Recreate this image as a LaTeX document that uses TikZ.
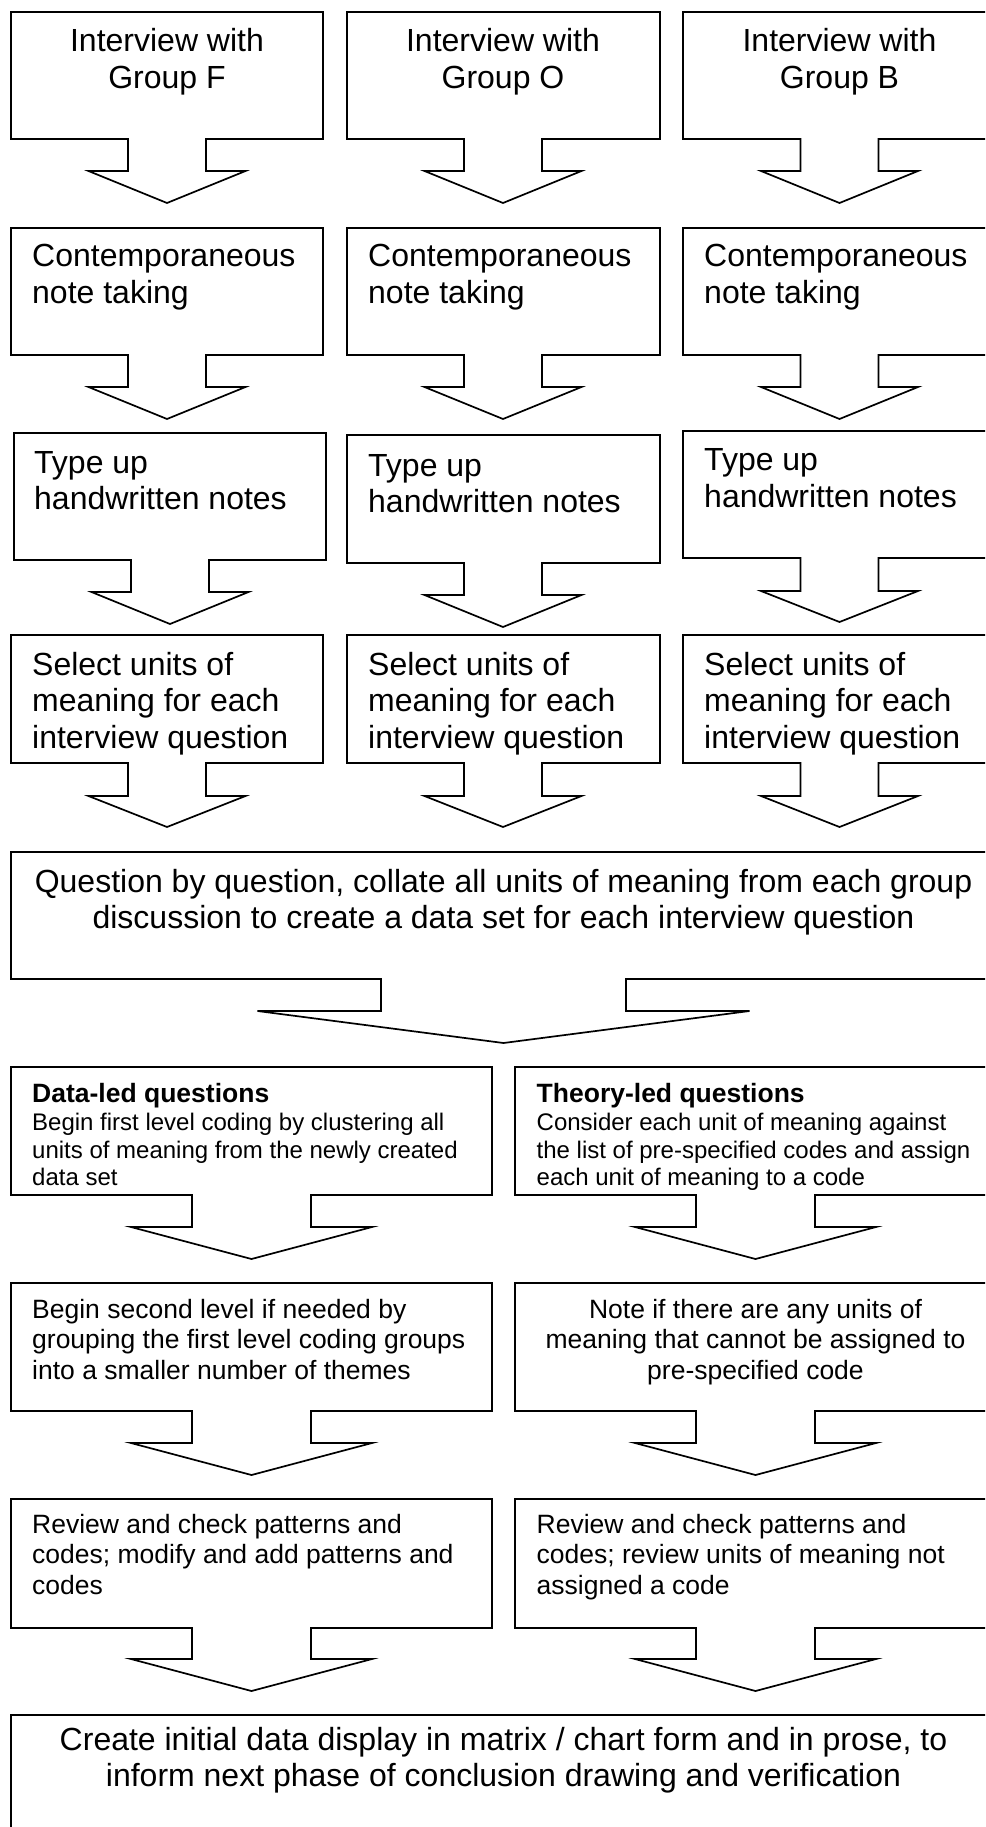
\documentclass[tikz,border=0pt]{standalone}
\usepackage{fontspec}
\setmainfont{Liberation Sans}
\tikzset{
  cbox/.style={draw=black, line width=1.7pt, line join=miter, fill=white},
  bigtxt/.style={font=\fontsize{32}{36.6}\selectfont, inner sep=0pt},
  midtxt/.style={font=\fontsize{26.5}{30.4}\selectfont, inner sep=0pt},
  smalltxt/.style={font=\fontsize{24}{27.7}\selectfont, inner sep=0pt},
}
% #1 left, #2 top, #3 right, #4 bottom, #5 centre x, #6 stem half, #7 head half, #8 stem bottom, #9 tip
\newcommand{\abox}[9]{%
  \draw[cbox] (#1,#2) -- (#3,#2) -- (#3,#4) -- ({#5+#6},#4) -- ({#5+#6},#8) -- ({#5+#7},#8)
    -- (#5,#9) -- ({#5-#7},#8) -- ({#5-#6},#8) -- ({#5-#6},#4) -- (#1,#4) -- cycle;}
\newcommand{\tl}[1]{\begin{tabular}[t]{@{}l@{}}#1\end{tabular}}
\newcommand{\tc}[1]{\begin{tabular}[t]{@{}c@{}}#1\end{tabular}}
\begin{document}
\begin{tikzpicture}[x=1pt,y=-1pt]
\path[use as bounding box, clip] (0,0) rectangle (985,1827);
\fill[white] (0,0) rectangle (985,1827);
% row 1
\abox{11}{12}{323}{139}{167}{39}{78.5}{171}{203}
\abox{347}{12}{660}{139}{503}{39}{78.5}{171}{203}
\abox{683}{12}{996}{139}{839.5}{39}{78.5}{171}{203}
\node[bigtxt, anchor=base] (f1) at (167,51.7) {\tc{Interview with\\Group F}};
\node[bigtxt, anchor=base] (o1) at (503,51.7) {\tc{Interview with\\Group O}};
\node[bigtxt, anchor=base] (b1) at (839.5,51.7) {\tc{Interview with\\Group B}};
% row 2
\abox{11}{228}{323}{355}{167}{39}{78.5}{387}{419}
\abox{347}{228}{660}{355}{503}{39}{78.5}{387}{419}
\abox{683}{228}{996}{355}{839.5}{39}{78.5}{387}{419}
\node[bigtxt, anchor=base west] (f2) at (32,266.7) {\tl{Contemporaneous\\note taking}};
\node[bigtxt, anchor=base west] (o2) at (368,266.7) {\tl{Contemporaneous\\note taking}};
\node[bigtxt, anchor=base west] (b2) at (704,266.7) {\tl{Contemporaneous\\note taking}};
% row 3
\abox{14}{433}{326}{560}{170}{39}{78.5}{592}{624}
\abox{347}{435}{660}{563}{503}{39}{78.5}{595}{627}
\abox{683}{431}{996}{558}{839.5}{39}{78.5}{591}{622}
\node[bigtxt, anchor=base west] (f3) at (34,473.3) {\tl{Type up\\handwritten notes}};
\node[bigtxt, anchor=base west] (o3) at (368,476) {\tl{Type up\\handwritten notes}};
\node[bigtxt, anchor=base west] (b3) at (704,470.7) {\tl{Type up\\handwritten notes}};
% row 4
\abox{11}{635}{323}{763}{167}{39}{78.5}{796}{827}
\abox{347}{635}{660}{763}{503}{39}{78.5}{796}{827}
\abox{683}{635}{996}{763}{839.5}{39}{78.5}{796}{827}
\node[bigtxt, anchor=base west] (f4) at (32,675) {\tl{Select units of\\meaning for each\\interview question}};
\node[bigtxt, anchor=base west] (o4) at (368,675) {\tl{Select units of\\meaning for each\\interview question}};
\node[bigtxt, anchor=base west] (b4) at (704,675) {\tl{Select units of\\meaning for each\\interview question}};
% collate box
\abox{11}{852}{996}{979}{503.5}{122.5}{246}{1011}{1043}
\node[bigtxt, anchor=base] (coll) at (503.5,892) {\tc{Question by question, collate all units of meaning from each group\\discussion to create a data set for each interview question}};
% data-led / theory-led
\abox{11}{1067}{492}{1195}{251.5}{59.5}{120.5}{1227}{1259}
\abox{515}{1067}{996}{1195}{755.5}{59.5}{120.5}{1227}{1259}
\node[smalltxt, anchor=base west] (d1) at (32,1102.7) {\tl{{\fontsize{26.5}{27.7}\selectfont\bfseries Data-led questions}\\Begin first level coding by clustering all\\units of meaning from the newly created\\data set}};
\node[smalltxt, anchor=base west] (t1) at (536.5,1102.7) {\tl{{\fontsize{26.5}{27.7}\selectfont\bfseries Theory-led questions}\\Consider each unit of meaning against\\the list of pre-specified codes and assign\\each unit of meaning to a code}};
\abox{11}{1283}{492}{1411}{251.5}{59.5}{120.5}{1443}{1475}
\abox{515}{1283}{996}{1411}{755.5}{59.5}{120.5}{1443}{1475}
\node[midtxt, anchor=base west] (d2) at (32,1318.3) {\tl{Begin second level if needed by\\grouping the first level coding groups\\into a smaller number of themes}};
\node[midtxt, anchor=base] (t2) at (755.5,1318.3) {\tc{Note if there are any units of\\meaning that cannot be assigned to\\pre-specified code}};
\abox{11}{1499}{492}{1628}{251.5}{59.5}{120.5}{1659}{1691}
\abox{515}{1499}{996}{1628}{755.5}{59.5}{120.5}{1659}{1691}
\node[midtxt, anchor=base west] (d3) at (32,1533.3) {\tl{Review and check patterns and\\codes; modify and add patterns and\\codes}};
\node[midtxt, anchor=base west] (t3) at (536.5,1533.3) {\tl{Review and check patterns and\\codes; review units of meaning not\\assigned a code}};
% final box
\draw[cbox] (11,1715) -- (996,1715) -- (996,1850) -- (11,1850) -- cycle;
\node[bigtxt, anchor=base] (fin) at (503.5,1750) {\tc{Create initial data display in matrix / chart form and in prose, to\\inform next phase of conclusion drawing and verification}};
\end{tikzpicture}
\end{document}
